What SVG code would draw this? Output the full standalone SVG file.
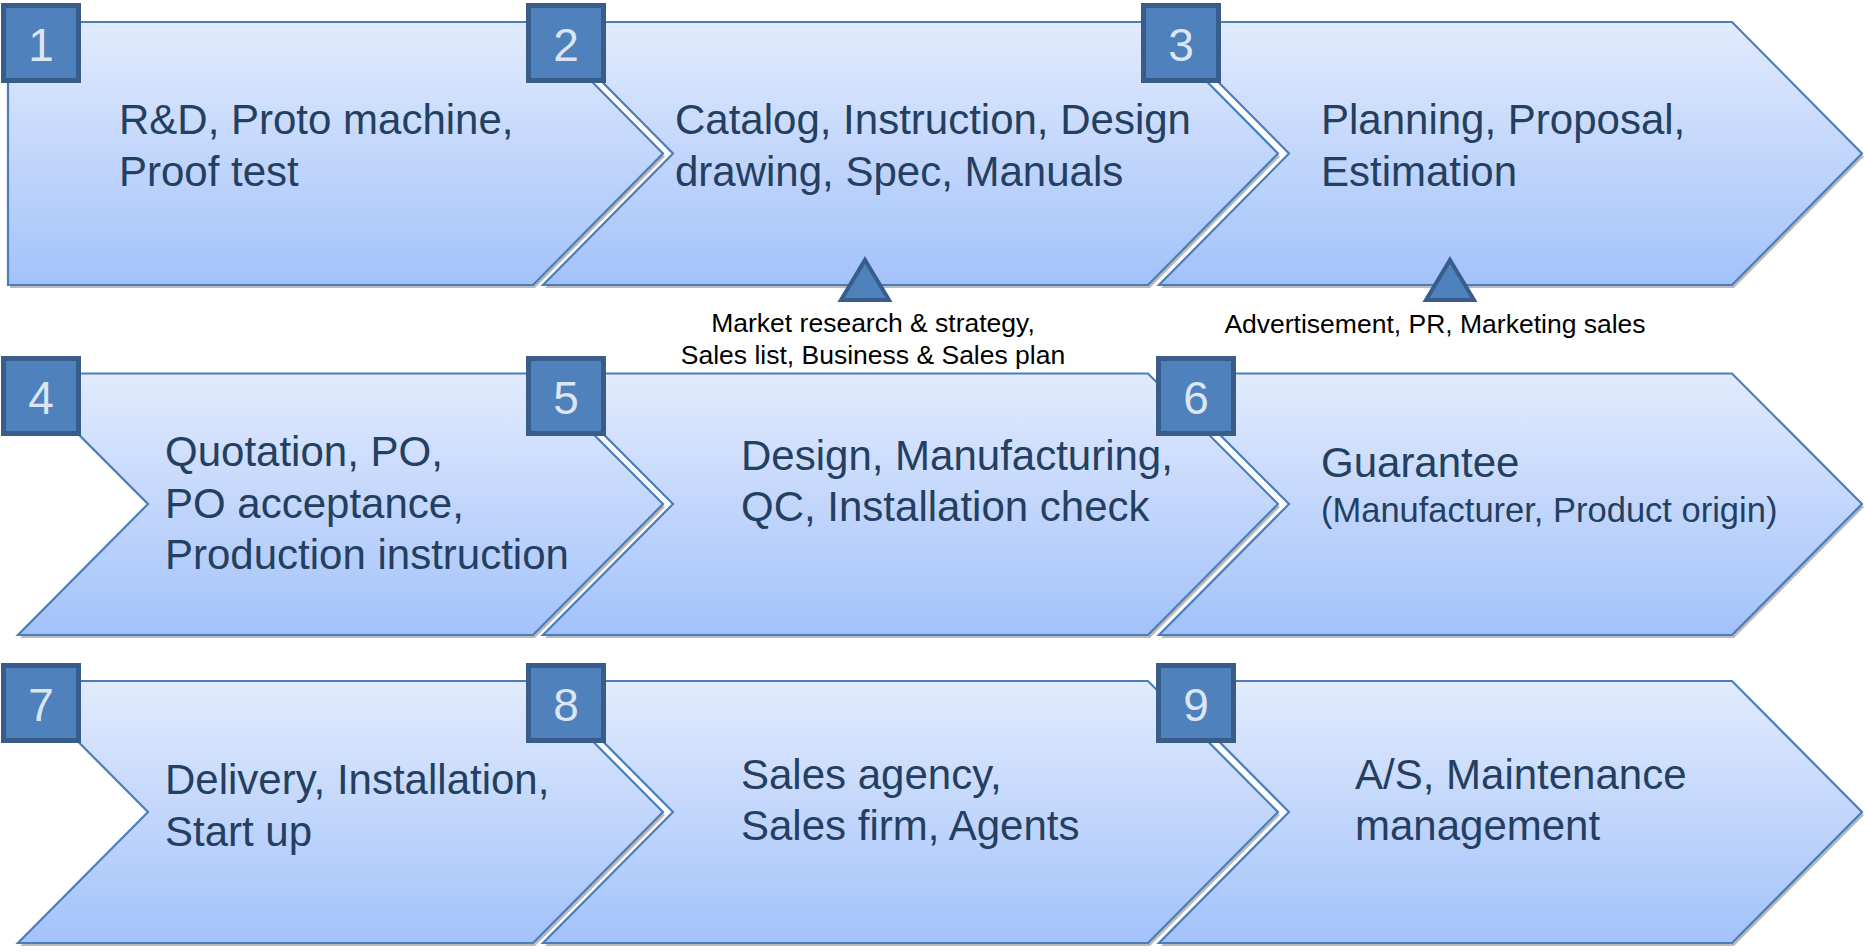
<svg xmlns="http://www.w3.org/2000/svg" width="1865" height="952" viewBox="0 0 1865 952">
<defs>
<linearGradient id="g1" x1="0" y1="0" x2="0" y2="1">
<stop offset="0" stop-color="#E2EBFD"/>
<stop offset="1" stop-color="#A3C2FA"/>
</linearGradient>
</defs>
<style>
.sh{fill:#A9A9A9;opacity:0.8}
.chev{fill:url(#g1);stroke:#4A7EBB;stroke-width:2.2;stroke-linejoin:miter}
.num rect{fill:#4F81BD;stroke:#385D8A;stroke-width:5}
.num text{font-family:"Liberation Sans",Arial,sans-serif;font-size:46px;fill:#DCE6F2;text-anchor:middle}
.t{font-family:"Liberation Sans",Arial,sans-serif;font-size:42px;fill:#243F60}
.ts{font-size:34.5px}
.lbl{font-family:"Liberation Sans",Arial,sans-serif;font-size:26.5px;fill:#000;text-anchor:middle}
.tri{fill:#4F81BD;stroke:#385D8A;stroke-width:4;stroke-linejoin:miter}
</style>
<rect width="1865" height="952" fill="#FFFFFF"/>

<g id="step1">
<path class="sh" d="M10,25 L535,25 L665,156.5 L535,288 L10,288 Z"/>
<path class="chev" d="M8,22 L533,22 L663,153.5 L533,285 L8,285 Z"/>
<text class="t" x="119" y="134">R&amp;D, Proto machine,</text>
<text class="t" x="119" y="186">Proof test</text>
</g>
<g id="step2">
<path class="sh" d="M545,25 L1150,25 L1280,156.5 L1150,288 L545,288 L675,156.5 Z"/>
<path class="chev" d="M543,22 L1148,22 L1278,153.5 L1148,285 L543,285 L673,153.5 Z"/>
<text class="t" x="675" y="134">Catalog, Instruction, Design</text>
<text class="t" x="675" y="186">drawing, Spec, Manuals</text>
</g>
<g id="step3">
<path class="sh" d="M1161,25 L1734,25 L1864,156.5 L1734,288 L1161,288 L1291,156.5 Z"/>
<path class="chev" d="M1159,22 L1732,22 L1862,153.5 L1732,285 L1159,285 L1289,153.5 Z"/>
<text class="t" x="1321" y="134">Planning, Proposal,</text>
<text class="t" x="1321" y="186">Estimation</text>
</g>

<g id="step4">
<path class="sh" d="M20,376.5 L535,376.5 L665,507 L535,638 L20,638 L150,507 Z"/>
<path class="chev" d="M18,373.5 L533,373.5 L663,504 L533,635 L18,635 L148,504 Z"/>
<text class="t" x="165" y="466">Quotation, PO,</text>
<text class="t" x="165" y="518">PO acceptance,</text>
<text class="t" x="165" y="569">Production instruction</text>
</g>
<g id="step5">
<path class="sh" d="M545,376.5 L1150,376.5 L1280,507 L1150,638 L545,638 L675,507 Z"/>
<path class="chev" d="M543,373.5 L1148,373.5 L1278,504 L1148,635 L543,635 L673,504 Z"/>
<text class="t" x="741" y="470">Design, Manufacturing,</text>
<text class="t" x="741" y="521">QC, Installation check</text>
</g>
<g id="step6">
<path class="sh" d="M1161,376.5 L1734,376.5 L1864,507 L1734,638 L1161,638 L1291,507 Z"/>
<path class="chev" d="M1159,373.5 L1732,373.5 L1862,504 L1732,635 L1159,635 L1289,504 Z"/>
<text class="t" x="1321" y="477">Guarantee</text>
<text class="t ts" x="1321" y="522">(Manufacturer, Product origin)</text>
</g>

<g id="step7">
<path class="sh" d="M20,684 L535,684 L665,815 L535,946 L20,946 L150,815 Z"/>
<path class="chev" d="M18,681 L533,681 L663,812 L533,943 L18,943 L148,812 Z"/>
<text class="t" x="165" y="794">Delivery, Installation,</text>
<text class="t" x="165" y="846">Start up</text>
</g>
<g id="step8">
<path class="sh" d="M545,684 L1150,684 L1280,815 L1150,946 L545,946 L675,815 Z"/>
<path class="chev" d="M543,681 L1148,681 L1278,812 L1148,943 L543,943 L673,812 Z"/>
<text class="t" x="741" y="789">Sales agency,</text>
<text class="t" x="741" y="840">Sales firm, Agents</text>
</g>
<g id="step9">
<path class="sh" d="M1161,684 L1734,684 L1864,815 L1734,946 L1161,946 L1291,815 Z"/>
<path class="chev" d="M1159,681 L1732,681 L1862,812 L1732,943 L1159,943 L1289,812 Z"/>
<text class="t" x="1355" y="789">A/S, Maintenance</text>
<text class="t" x="1355" y="840">management</text>
</g>

<g id="badges">
<g id="badge1" class="num"><rect x="3.5" y="5.5" width="75" height="75"/><text x="41" y="61">1</text></g>
<g id="badge2" class="num"><rect x="528.5" y="5.5" width="75" height="75"/><text x="566" y="61">2</text></g>
<g id="badge3" class="num"><rect x="1143.5" y="5.5" width="75" height="75"/><text x="1181" y="61">3</text></g>
<g id="badge4" class="num"><rect x="3.5" y="358.5" width="75" height="75"/><text x="41" y="414">4</text></g>
<g id="badge5" class="num"><rect x="528.5" y="358.5" width="75" height="75"/><text x="566" y="414">5</text></g>
<g id="badge6" class="num"><rect x="1158.5" y="358.5" width="75" height="75"/><text x="1196" y="414">6</text></g>
<g id="badge7" class="num"><rect x="3.5" y="665.5" width="75" height="75"/><text x="41" y="721">7</text></g>
<g id="badge8" class="num"><rect x="528.5" y="665.5" width="75" height="75"/><text x="566" y="721">8</text></g>
<g id="badge9" class="num"><rect x="1158.5" y="665.5" width="75" height="75"/><text x="1196" y="721">9</text></g>
</g>

<g id="connectors">
<path class="tri" d="M865,260 L889,300 L841,300 Z"/>
<path class="tri" d="M1450,260 L1474,300 L1426,300 Z"/>
</g>

<g id="labels">
<text class="lbl" x="873" y="332">Market research &amp; strategy,</text>
<text class="lbl" x="873" y="364">Sales list, Business &amp; Sales plan</text>
<text class="lbl" x="1435" y="333">Advertisement, PR, Marketing sales</text>
</g>
</svg>
